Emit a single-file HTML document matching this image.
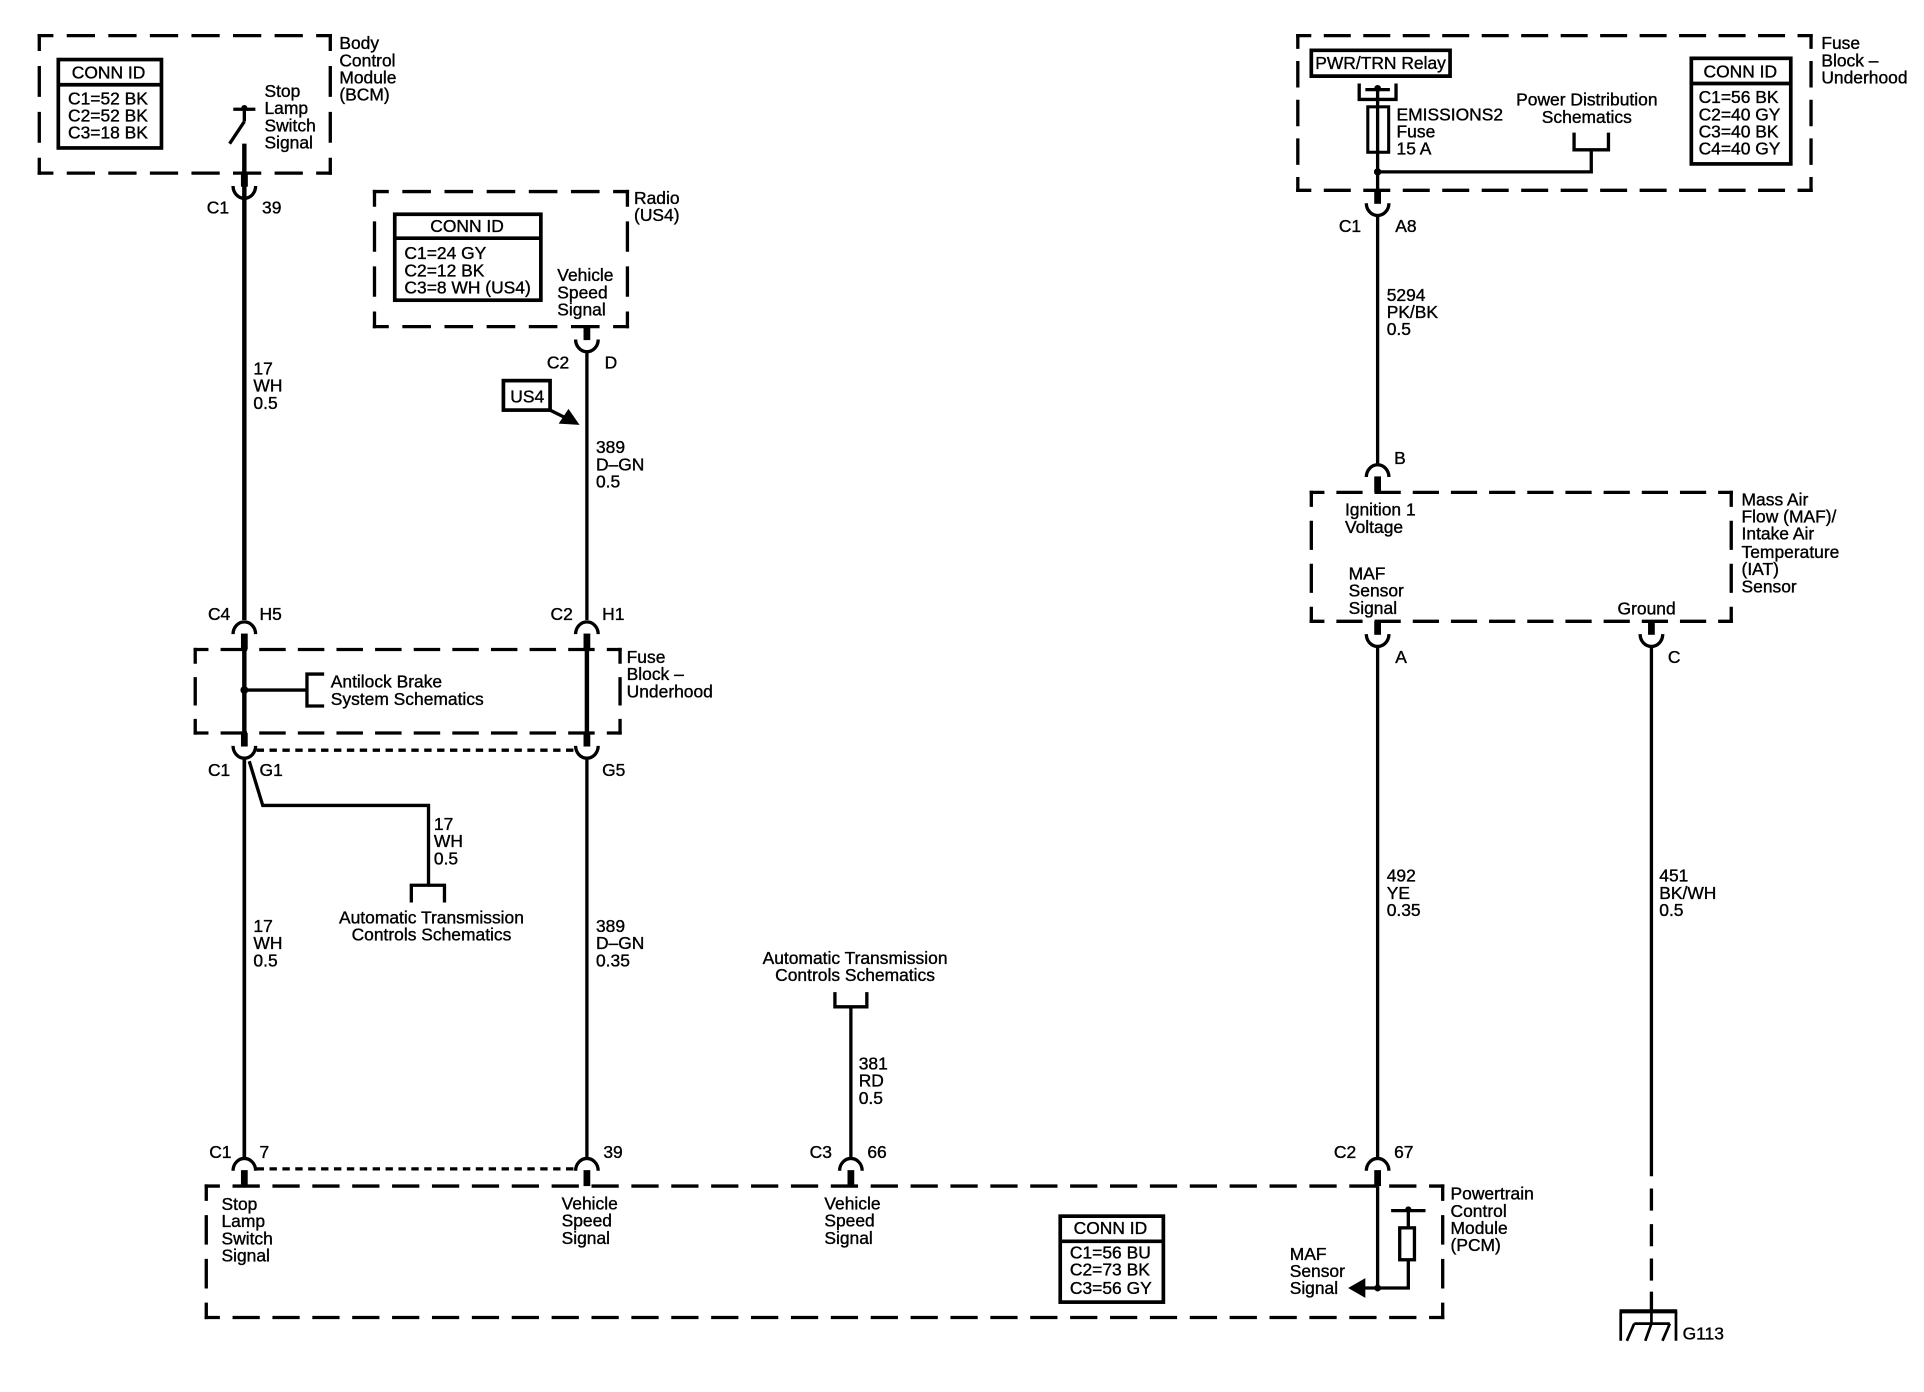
<!DOCTYPE html>
<html><head><meta charset="utf-8"><title>Wiring diagram</title>
<style>
html,body{margin:0;padding:0;background:#fff}
svg{display:block}
text{font-family:"Liberation Sans",sans-serif;font-size:14.2px;fill:#000;stroke:#000;stroke-width:.3;transform:translateX(-.6px)}
.m{text-anchor:middle}
.d{fill:none;stroke:#000;stroke-width:2.7;stroke-dasharray:.6 .4;stroke-dashoffset:.3;stroke-linecap:square}
.w{fill:none;stroke:#000;stroke-width:2.7}
.t{fill:none;stroke:#000;stroke-width:3.6}
.s{fill:none;stroke:#000;stroke-width:5.5}
.b{fill:#fff;stroke:#000;stroke-width:3}
.sh{fill:none;stroke:#000;stroke-width:2.7;stroke-dasharray:6 4.5}
</style></head><body>
<svg xmlns="http://www.w3.org/2000/svg" width="1924" height="1392" viewBox="0 0 1567 1133.7" preserveAspectRatio="none">
<defs>
<g id="u"><path class="s" d="M0 0V11"/><path class="w" d="M-9.2 10.5A9.2 10 0 0 0 9.2 10.5"/></g>
<g id="n"><path class="s" d="M0 0V-13"/><path class="w" d="M-9.2 -12.5A9.2 10 0 0 1 9.2 -12.5"/></g>
</defs>
<rect width="1567" height="1133.7" fill="#fff"/>

<!-- dashed module boxes -->
<path class="d" pathLength="7" d="M32 29H269"/><path class="d" pathLength="7" d="M32 141H269"/>
<path class="d" pathLength="3" d="M32 29V141"/><path class="d" pathLength="3" d="M269 29V141"/>

<path class="d" pathLength="6" d="M305 156H511"/><path class="d" pathLength="6" d="M305 266H511"/>
<path class="d" pathLength="3" d="M305 156V266"/><path class="d" pathLength="3" d="M511 156V266"/>

<path class="d" pathLength="13" d="M1057 29H1475"/><path class="d" pathLength="13" d="M1057 155H1475"/>
<path class="d" pathLength="4" d="M1057 29V155"/><path class="d" pathLength="4" d="M1475 29V155"/>

<path class="d" pathLength="11" d="M1068 401H1410"/><path class="d" pathLength="11" d="M1068 506H1410"/>
<path class="d" pathLength="3" d="M1068 401V506"/><path class="d" pathLength="3" d="M1410 401V506"/>

<path class="d" pathLength="11" d="M159 529H505"/><path class="d" pathLength="11" d="M159 597H505"/>
<path class="d" pathLength="2" d="M159 529V597"/><path class="d" pathLength="2" d="M505 529V597"/>

<path class="d" pathLength="31" d="M168 966H1175"/><path class="d" pathLength="31" d="M168 1073H1175"/>
<path class="d" pathLength="3" d="M168 966V1073"/><path class="d" pathLength="3" d="M1175 966V1073"/>

<!-- wires left -->
<path class="t" d="M199 117V505"/>
<path class="s" d="M199 141V152"/>
<use href="#u" x="199" y="141"/>
<use href="#n" x="199" y="529"/>
<path class="t" d="M199 529V597"/>
<use href="#u" x="199" y="597"/>
<path class="w" d="M199 618V943" style="stroke-width:3"/>
<use href="#n" x="199" y="966"/>

<path class="w" d="M478 287V505"/>
<use href="#u" x="478" y="266"/>
<use href="#n" x="478" y="529"/>
<path class="t" d="M478 529V597"/>
<use href="#u" x="478" y="597"/>
<path class="w" d="M478 618V943"/>
<use href="#n" x="478" y="966"/>

<path class="sh" d="M209 611H468"/>
<path class="sh" d="M209 952H468"/>

<!-- switch -->
<path class="w" d="M190 89H208M199 86V99M199 99L187 117"/>
<circle cx="199" cy="88" r="2.5"/>

<!-- ABS branch -->
<circle cx="199" cy="562" r="3.2"/>
<path class="w" d="M199 562H250"/>
<path class="w" d="M264 549H250V575H264"/>

<!-- TCM branch -->
<path class="w" d="M203 620L214 656H349V721"/>
<path class="w" d="M335 735V721H362V735"/>

<!-- C3 wire -->
<path class="w" d="M693 820V943"/>
<path class="w" d="M680 808V820H706V808"/>
<use href="#n" x="693" y="966"/>

<!-- right top -->
<path class="w" d="M1068 41H1181V62H1068Z" style="stroke-width:3"/>
<path class="w" d="M1107 68V81H1137V68"/>
<path class="w" d="M1112 73H1132"/>
<circle cx="1122" cy="72" r="2.8"/>
<path class="w" d="M1122 72V155"/>
<rect x="1114" y="87" width="17" height="37" fill="none" stroke="#000" stroke-width="2.5"/>
<circle cx="1122" cy="140" r="3"/>
<path class="w" d="M1122 140H1296V122"/>
<path class="w" d="M1282 108V122H1310V108"/>
<use href="#u" x="1122" y="155"/>
<path class="w" d="M1122 176V378"/>
<use href="#n" x="1122" y="401"/>
<use href="#u" x="1122" y="506"/>
<path class="w" d="M1122 527V943"/>
<use href="#n" x="1122" y="966"/>
<use href="#u" x="1345" y="506"/>

<!-- PCM internals -->
<path class="w" d="M1122 966V1049"/>
<path class="w" d="M1108 1049H1147V986"/>
<path class="w" d="M1133 986H1161"/>
<circle cx="1147" cy="985" r="2.5"/>
<rect x="1140" y="1000" width="12" height="26" fill="#fff" stroke="#000" stroke-width="2.7"/>
<circle cx="1122" cy="1049" r="2.8"/>
<polygon points="1098,1049 1112,1041 1112,1057"/>

<!-- ground wire -->
<path class="w" d="M1345 527V958M1345 968V986M1345 997V1015M1345 1025V1043M1345 1052V1068"/>
<path d="M1319 1068H1366" stroke="#000" stroke-width="3.4" fill="none"/>
<path d="M1320 1068V1092M1365 1068V1092M1331 1078H1360M1331 1078L1325 1092M1345 1068V1078L1340 1092M1360 1078L1354 1092" stroke="#000" stroke-width="2.2" fill="none"/>

<!-- US4 flag -->
<rect x="410" y="310" width="38" height="24" fill="#fff" stroke="#000" stroke-width="3"/>
<path class="w" d="M448 334L462 341"/>
<polygon points="472,346 455,345 463,333"/>

<!-- CONN ID boxes -->
<rect class="b" x="47.5" y="48.5" width="84" height="72"/><path class="b" d="M47 69H132"/>
<rect class="b" x="321.5" y="174.5" width="119" height="70"/><path class="b" d="M321 194H441"/>
<rect class="b" x="1377.5" y="47.5" width="81" height="86"/><path class="b" d="M1377 68H1459"/>
<rect class="b" x="863.5" y="990.5" width="84" height="70"/><path class="b" d="M863 1011H948"/>

<!-- text -->
<text class="m" x="89" y="64">CONN ID</text>
<text x="56" y="85">C1=52 BK</text><text x="56" y="99">C2=52 BK</text><text x="56" y="113">C3=18 BK</text>
<text x="277" y="40">Body</text><text x="277" y="54">Control</text><text x="277" y="68">Module</text><text x="277" y="82">(BCM)</text>
<text x="216" y="79">Stop</text><text x="216" y="93">Lamp</text><text x="216" y="107">Switch</text><text x="216" y="121">Signal</text>
<text x="169" y="174">C1</text><text x="214" y="174">39</text>
<text x="207" y="305">17</text><text x="207" y="319">WH</text><text x="207" y="333">0.5</text>

<text class="m" x="381" y="189">CONN ID</text>
<text x="330" y="211">C1=24 GY</text><text x="330" y="225">C2=12 BK</text><text x="330" y="239">C3=8 WH (US4)</text>
<text x="517" y="166">Radio</text><text x="517" y="180">(US4)</text>
<text x="454.5" y="229">Vehicle</text><text x="454.5" y="243">Speed</text><text x="454.5" y="257">Signal</text>
<text x="446" y="300">C2</text><text x="493" y="300">D</text>
<text class="m" x="430" y="328">US4</text>
<text x="486" y="369">389</text><text x="486" y="383">D–GN</text><text x="486" y="397">0.5</text>

<text x="170" y="505">C4</text><text x="212" y="505">H5</text>
<text x="449" y="505">C2</text><text x="491" y="505">H1</text>
<text x="270" y="560">Antilock Brake</text><text x="270" y="574">System Schematics</text>
<text x="511" y="540">Fuse</text><text x="511" y="554">Block –</text><text x="511" y="568">Underhood</text>
<text x="170" y="632">C1</text><text x="212" y="632">G1</text><text x="491" y="632">G5</text>
<text x="354" y="676">17</text><text x="354" y="690">WH</text><text x="354" y="704">0.5</text>
<text class="m" x="352" y="752">Automatic Transmission</text><text class="m" x="352" y="766">Controls Schematics</text>
<text x="207" y="759">17</text><text x="207" y="773">WH</text><text x="207" y="787">0.5</text>
<text x="486" y="759">389</text><text x="486" y="773">D–GN</text><text x="486" y="787">0.35</text>

<text class="m" x="697" y="785">Automatic Transmission</text><text class="m" x="697" y="799">Controls Schematics</text>
<text x="700" y="871">381</text><text x="700" y="885">RD</text><text x="700" y="899">0.5</text>

<text x="171" y="943">C1</text><text x="212" y="943">7</text><text x="492" y="943">39</text>
<text x="660" y="943">C3</text><text x="707" y="943">66</text>
<text x="1087" y="943">C2</text><text x="1136" y="943">67</text>
<text x="181" y="985.5">Stop</text><text x="181" y="999.5">Lamp</text><text x="181" y="1013.5">Switch</text><text x="181" y="1027.5">Signal</text>
<text x="458" y="985">Vehicle</text><text x="458" y="999">Speed</text><text x="458" y="1013">Signal</text>
<text x="672" y="985">Vehicle</text><text x="672" y="999">Speed</text><text x="672" y="1013">Signal</text>
<text class="m" x="905" y="1005">CONN ID</text>
<text x="872" y="1025">C1=56 BU</text><text x="872" y="1039">C2=73 BK</text><text x="872" y="1054">C3=56 GY</text>
<text x="1051" y="1026">MAF</text><text x="1051" y="1040">Sensor</text><text x="1051" y="1054">Signal</text>
<text x="1182" y="977">Powertrain</text><text x="1182" y="991">Control</text><text x="1182" y="1005">Module</text><text x="1182" y="1019">(PCM)</text>

<text class="m" x="1125" y="56">PWR/TRN Relay</text>
<text x="1138" y="98">EMISSIONS2</text><text x="1138" y="112">Fuse</text><text x="1138" y="126">15 A</text>
<text class="m" x="1293" y="86">Power Distribution</text><text class="m" x="1293" y="100">Schematics</text>
<text class="m" x="1418" y="63">CONN ID</text>
<text x="1384" y="84">C1=56 BK</text><text x="1384" y="98">C2=40 GY</text><text x="1384" y="112">C3=40 BK</text><text x="1384" y="126">C4=40 GY</text>
<text x="1484" y="40">Fuse</text><text x="1484" y="54">Block –</text><text x="1484" y="68">Underhood</text>
<text x="1091" y="189">C1</text><text x="1137" y="189">A8</text>
<text x="1130" y="245">5294</text><text x="1130" y="259">PK/BK</text><text x="1130" y="273">0.5</text>
<text x="1136" y="378">B</text>
<text x="1096" y="420">Ignition 1</text><text x="1096" y="434">Voltage</text>
<text x="1099" y="472">MAF</text><text x="1099" y="486">Sensor</text><text x="1099" y="500">Signal</text>
<text x="1318" y="500.5">Ground</text>
<text x="1419" y="411.5">Mass Air</text><text x="1419" y="425.5">Flow (MAF)/</text><text x="1419" y="439.5">Intake Air</text><text x="1419" y="454.5">Temperature</text><text x="1419" y="468.5">(IAT)</text><text x="1419" y="482.5">Sensor</text>
<text x="1137" y="540">A</text><text x="1359" y="540">C</text>
<text x="1130" y="718">492</text><text x="1130" y="732">YE</text><text x="1130" y="746">0.35</text>
<text x="1352" y="718">451</text><text x="1352" y="732">BK/WH</text><text x="1352" y="746">0.5</text>
<text x="1371" y="1091">G113</text>
</svg>
</body></html>
